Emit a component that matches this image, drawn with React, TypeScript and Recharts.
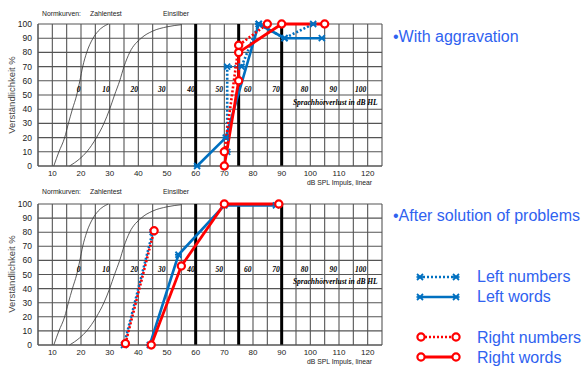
import React from "react";
import {
  ComposedChart,
  Line,
  XAxis,
  YAxis,
  CartesianGrid,
  ReferenceLine,
  ReferenceDot,
} from "recharts";

// dB SPL grid (every 5 dB) and percent ticks
const gridX = [5, 10, 15, 20, 25, 30, 35, 40, 45, 50, 55, 60, 65, 70, 75, 80, 85, 90, 95, 100, 105, 110, 115, 120, 125];
const pctTicks = [0, 10, 20, 30, 40, 50, 60, 70, 80, 90, 100];
const thickX = [60, 75, 90];

// dB HL scale printed inside the chart
const hlText = ["0", "10", "20", "30", "40", "50", "60", "70", "80", "90", "100"];
const hlX = [19.2, 28.7, 38.6, 48.2, 58.4, 68.2, 78.2, 88, 98, 108, 117.5];

// Normkurven
const zahlenX = [10.5, 12.3, 14.3, 15.6, 17, 18.5, 19.6, 20.6, 22, 24.2, 26, 29.5];
const zahlenY = [0, 10, 20, 30, 40, 50, 60, 70, 80, 90, 95, 100];
const einsX = [16, 19.5, 22, 25.4, 28, 30, 31.7, 33.5, 35, 37, 41, 45, 50, 55];
const einsY = [0, 5, 10, 20, 30, 40, 50, 60, 70, 80, 90, 95, 98, 99.5];

// "With aggravation"
const aggLeftNumX = [71, 71, 76, 82, 91, 101];
const aggLeftNumY = [10, 70, 70, 100, 90, 100];
const aggLeftWordX = [60.5, 70.5, 82, 91, 104];
const aggLeftWordY = [0, 20, 100, 90, 90];
const aggRightNumX = [70, 75, 85];
const aggRightNumY = [10, 85, 100];
const aggRightWordX = [70, 75, 75, 90, 105];
const aggRightWordY = [0, 60, 80, 100, 100];

// "After solution of problems"
const solLeftNumX = [35, 45];
const solLeftNumY = [0, 80];
const solLeftWordX = [44, 54, 70, 88];
const solLeftWordY = [0, 64, 99, 99];
const solRightNumX = [35.5, 45.5];
const solRightNumY = [1, 81];
const solRightWordX = [44.5, 55, 70, 89];
const solRightWordY = [0, 56, 100, 100];

const BLUE = "#0070C0";
const RED = "#FF0000";
const TXT = "#2F62F0";

const zip = (xs: number[], ys: number[]) => xs.map((x, i) => ({ x, y: ys[i] }));

function Star(props: any) {
  const { cx, cy, index } = props;
  if (cx == null || cy == null) return <g key={index} />;
  const s = 3;
  return (
    <g key={index} stroke={BLUE} strokeWidth={1.8}>
      <line x1={cx - s} y1={cy - s} x2={cx + s} y2={cy + s} />
      <line x1={cx - s} y1={cy + s} x2={cx + s} y2={cy - s} />
      <line x1={cx - s - 0.5} y1={cy} x2={cx + s + 0.5} y2={cy} />
    </g>
  );
}

function Ring(props: any) {
  const { cx, cy, index } = props;
  if (cx == null || cy == null) return <g key={index} />;
  return <circle key={index} cx={cx} cy={cy} r={3.6} fill="#fff" stroke={RED} strokeWidth={2.2} />;
}

type Series = { ln: any[]; lw: any[]; rn: any[]; rw: any[] };

function Panel({ s, top, axisH }: { s: Series; top: number; axisH: number }) {
  return (
    <ComposedChart width={586} height={183} margin={{ top, right: 204, bottom: 0, left: 0 }}>
      <CartesianGrid stroke="#555" strokeWidth={1.1} />
      <XAxis
        type="number"
        dataKey="x"
        domain={[5, 125]}
        ticks={gridX}
        interval={0}
        height={axisH}
        tickLine={false}
        tickSize={2}
        tickMargin={2}
        axisLine={{ stroke: "#555" }}
        tick={{ fontSize: 8, fill: "#222", fontFamily: "Liberation Sans, Arial" }}
        tickFormatter={(v: number) => (v % 10 === 0 && v >= 10 && v <= 120 ? String(v) : "")}
      />
      <YAxis
        type="number"
        domain={[0, 100]}
        ticks={pctTicks}
        interval={0}
        width={38}
        tickLine={false}
        tickSize={4}
        tickMargin={2}
        axisLine={{ stroke: "#555" }}
        tick={{ fontSize: 8.5, fill: "#222", fontFamily: "Liberation Sans, Arial" }}
      />
      {thickX.map((v) => (
        <ReferenceLine key={v} x={v} stroke="#000" strokeWidth={3} />
      ))}
      <Line data={zip(zahlenX, zahlenY)} dataKey="y" type="monotone" stroke="#333" strokeWidth={0.8} dot={false} isAnimationActive={false} />
      <Line data={zip(einsX, einsY)} dataKey="y" type="monotone" stroke="#333" strokeWidth={0.8} dot={false} isAnimationActive={false} />
      {hlText.map((t, i) => (
        <ReferenceDot
          key={t}
          x={hlX[i]}
          y={54}
          r={0}
          stroke="none"
          label={{
            value: t,
            position: "center",
            fontSize: 7.5,
            fontWeight: "bold",
            fontStyle: "italic",
            fontFamily: "Liberation Serif, Times New Roman",
            fill: "#000",
          }}
        />
      ))}
      <ReferenceDot
        x={123.5}
        y={45}
        r={0}
        stroke="none"
        label={{
          value: "Sprachhörverlust in dB HL",
          position: "left",
          offset: 0,
          fontSize: 7.5,
          fontWeight: "bold",
          fontStyle: "italic",
          fontFamily: "Liberation Serif, Times New Roman",
          fill: "#000",
        }}
      />
      <Line data={s.lw} dataKey="y" type="linear" stroke={BLUE} strokeWidth={2.6} dot={Star} isAnimationActive={false} />
      <Line data={s.ln} dataKey="y" type="linear" stroke={BLUE} strokeWidth={2.6} strokeDasharray="2 2" dot={Star} isAnimationActive={false} />
      <Line data={s.rw} dataKey="y" type="linear" stroke={RED} strokeWidth={2.8} dot={Ring} isAnimationActive={false} />
      <Line data={s.rn} dataKey="y" type="linear" stroke={RED} strokeWidth={2.6} strokeDasharray="2 2" dot={Ring} isAnimationActive={false} />
    </ComposedChart>
  );
}

const small = { fontSize: 6.8, fill: "#222", fontFamily: "Liberation Sans, Arial" };
const big = { fontSize: 16, fill: TXT, fontFamily: "Liberation Sans, Arial" };

function Header({ y }: { y: number }) {
  return (
    <g style={small as any}>
      <text x={42} y={y} {...small}>Normkurven:</text>
      <text x={90} y={y} {...small}>Zahlentest</text>
      <text x={163} y={y} {...small}>Einsilber</text>
    </g>
  );
}

export default function App() {
  const agg: Series = {
    ln: zip(aggLeftNumX, aggLeftNumY),
    lw: zip(aggLeftWordX, aggLeftWordY),
    rn: zip(aggRightNumX, aggRightNumY),
    rw: zip(aggRightWordX, aggRightWordY),
  };
  const sol: Series = {
    ln: zip(solLeftNumX, solLeftNumY),
    lw: zip(solLeftWordX, solLeftWordY),
    rn: zip(solRightNumX, solRightNumY),
    rw: zip(solRightWordX, solRightWordY),
  };

  return (
    <div style={{ position: "absolute", left: 0, top: 0, width: 586, height: 366, background: "#fff" }}>
      <div style={{ position: "absolute", left: 0, top: 0 }}>
        <Panel s={agg} top={24} axisH={17} />
      </div>
      <div style={{ position: "absolute", left: 0, top: 183 }}>
        <Panel s={sol} top={21} axisH={21} />
      </div>
      <svg width={586} height={366} style={{ position: "absolute", left: 0, top: 0, pointerEvents: "none" }}>
        <Header y={16} />
        <Header y={194} />
        <text x={307} y={185} {...small}>dB SPL Impuls, linear</text>
        <text x={307} y={364} {...small}>dB SPL Impuls, linear</text>
        <text transform="rotate(-90 15 95)" x={15} y={95} textAnchor="middle" fontSize={9.5} fill="#444" fontFamily="Liberation Sans, Arial">
          Verständlichkeit %
        </text>
        <text transform="rotate(-90 15 274)" x={15} y={274} textAnchor="middle" fontSize={9.5} fill="#444" fontFamily="Liberation Sans, Arial">
          Verständlichkeit %
        </text>
        <text x={393} y={42} {...big}>•With aggravation</text>
        <text x={393} y={221} {...big}>•After solution of problems</text>

        <line x1={419} y1={277} x2={456} y2={277} stroke={BLUE} strokeWidth={2.4} strokeDasharray="2 2" />
        <Star cx={420} cy={277} index="a" />
        <Star cx={456} cy={277} index="b" />
        <text x={477} y={282} {...big}>Left numbers</text>

        <line x1={419} y1={297} x2={456} y2={297} stroke={BLUE} strokeWidth={2.6} />
        <Star cx={420} cy={297} index="c" />
        <Star cx={456} cy={297} index="d" />
        <text x={477} y={302} {...big}>Left words</text>

        <line x1={421} y1={337} x2={456} y2={337} stroke={RED} strokeWidth={2.4} strokeDasharray="2 2" />
        <Ring cx={421} cy={337} index="e" />
        <Ring cx={456} cy={337} index="f" />
        <text x={477} y={343} {...big}>Right numbers</text>

        <line x1={421} y1={357} x2={456} y2={357} stroke={RED} strokeWidth={2.8} />
        <Ring cx={421} cy={357} index="g" />
        <Ring cx={456} cy={357} index="h" />
        <text x={477} y={363} {...big}>Right words</text>
      </svg>
    </div>
  );
}
